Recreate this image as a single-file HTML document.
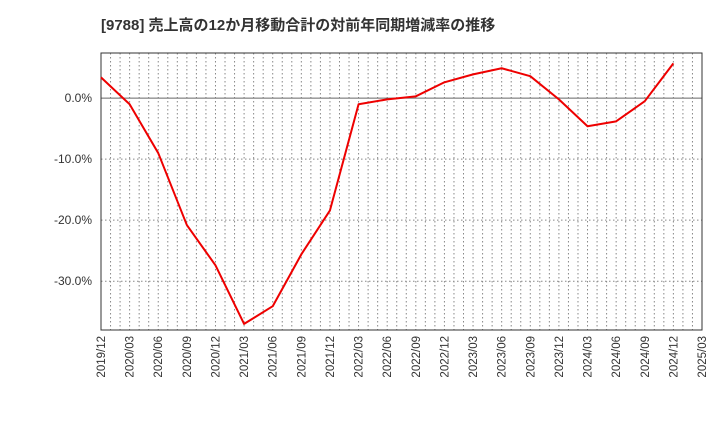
<!DOCTYPE html>
<html><head><meta charset="utf-8"><style>
body{margin:0;background:#fff;font-family:"Liberation Sans","Noto Sans CJK JP",sans-serif;}
</style></head><body>
<svg id="c" width="720" height="440" xmlns="http://www.w3.org/2000/svg">
<text x="101" y="30" font-size="15" font-weight="bold" fill="#333" font-family="Liberation Sans, Noto Sans CJK JP, sans-serif">[9788]  売上高の12か月移動合計の対前年同期増減率の推移</text>
<g id="grid"></g><g id="axes"></g><g id="series"></g>
</svg>
<script>
const categories=["2019/12","2020/03","2020/06","2020/09","2020/12","2021/03","2021/06","2021/09","2021/12","2022/03","2022/06","2022/09","2022/12","2023/03","2023/06","2023/09","2023/12","2024/03","2024/06","2024/09","2024/12"];
const tickLabels=["2019/12","2020/03","2020/06","2020/09","2020/12","2021/03","2021/06","2021/09","2021/12","2022/03","2022/06","2022/09","2022/12","2023/03","2023/06","2023/09","2023/12","2024/03","2024/06","2024/09","2024/12","2025/03"];
const values=[3.4,-1.0,-9.0,-20.8,-27.4,-37.0,-34.1,-25.6,-18.4,-1.0,-0.2,0.3,2.6,3.9,4.9,3.6,-0.2,-4.6,-3.8,-0.5,5.7];
const yTicks=[0,-10,-20,-30];
const L=101,R=702,T=53,B=330,yMax=7.4,yMin=-38;
const ns="http://www.w3.org/2000/svg";
const xq=i=>L+(R-L)*i/(tickLabels.length-1);
const y=v=>T+(yMax-v)/(yMax-yMin)*(B-T);
function mk(t,a,p){const e=document.createElementNS(ns,t);for(const k in a)e.setAttribute(k,a[k]);p.appendChild(e);return e;}
const g=document.getElementById('grid'),ax=document.getElementById('axes'),s=document.getElementById('series');
const nm=(tickLabels.length-1)*3;
for(let m=1;m<nm;m++){const x=L+(R-L)*m/nm;
const l=mk('line',{x1:x,x2:x,y1:T,y2:B,stroke:'#888','stroke-dasharray':'1.5,2.5','stroke-width':1},g);

}
yTicks.forEach(v=>{const yy=y(v);
const l=mk('line',{x1:L,x2:R,y1:yy,y2:yy,stroke:v===0?'#666':'#888','stroke-dasharray':v===0?'':'1.5,2.5','stroke-width':1},g);


const t=mk('text',{x:L-9,y:yy+4,'text-anchor':'end','font-size':12,fill:'#333'},ax);t.textContent=v.toFixed(1)+'%';

});
const fr=mk('rect',{x:L,y:T,width:R-L,height:B-T,fill:'none',stroke:'#333','stroke-width':1},ax);


tickLabels.forEach((lab,i)=>{const x=xq(i);
const t=mk('text',{transform:`translate(${x+4},${B+6}) rotate(-90)`,'text-anchor':'end','font-size':11.5,fill:'#333'},ax);t.textContent=lab;

});
const pts=values.map((v,i)=>xq(i)+','+y(v)).join(' ');
const pl=mk('polyline',{points:pts,fill:'none',stroke:'#ee0000','stroke-width':2,'stroke-linejoin':'round'},s);


</script>
</body></html>
